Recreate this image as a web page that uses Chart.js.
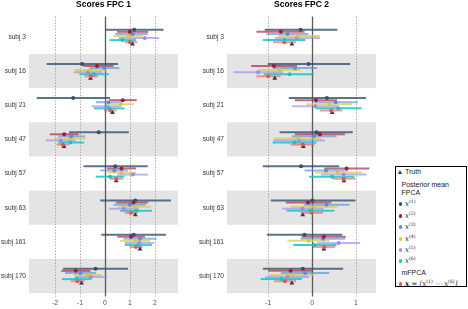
<!DOCTYPE html>
<html><head><meta charset="utf-8">
<script src="https://cdn.jsdelivr.net/npm/chart.js@4"></script>
<style>
html,body{margin:0;padding:0;background:#fff;}
body{width:468px;height:309px;overflow:hidden;position:relative;font-family:"Liberation Sans",Arial,sans-serif;}
#c1{position:absolute;left:0;top:0;}
#c2{position:absolute;left:185px;top:0;}
#legend{position:absolute;left:395px;top:166px;width:72px;height:121px;border:0.8px solid #000;box-sizing:border-box;}
.row{position:absolute;left:0;height:10px;line-height:10px;font-size:7px;color:#1a1a1a;white-space:nowrap;}
.mk{position:absolute;left:2.5px;top:3px;width:3.6px;height:3.6px;border-radius:50%;}
.tri{position:absolute;left:2px;top:2.5px;width:0;height:0;border-left:2.4px solid transparent;border-right:2.4px solid transparent;border-bottom:4.2px solid #2a3a55;}
.txt{position:absolute;left:9px;top:0;}
.hd{position:absolute;left:5.5px;top:0;}
.m{font-family:"DejaVu Serif","Liberation Serif",serif;font-style:italic;font-size:7px;}
.m sup{font-size:4.6px;font-style:normal;vertical-align:3px;line-height:0;}
</style></head><body>
<canvas id="c1" width="185" height="309"></canvas>
<canvas id="c2" width="200" height="309"></canvas>
<div id="legend"></div>
<script>
// ---------------- DATA ----------------
const subjects = ["subj 3","subj 16","subj 21","subj 47","subj 57","subj 63","subj 161","subj 170"];
const seriesLabels = ["x(1)","x(2)","x(3)","x(4)","x(5)","x(6)","mFPCA"];
const xTicks1 = [-2,-1,0,1,2];
const xTicks2 = [-1,0,1];
// FPC 1: [lower, mean, upper] per subject
const fpc1_x1 = [[0.00,1.17,2.34],[-2.33,-0.91,0.52],[-2.73,-1.27,0.20],[-1.44,-0.25,0.95],[-0.86,0.41,1.71],[-0.19,1.21,2.64],[-0.15,1.15,2.44],[-1.68,-0.38,0.92]];
const fpc1_x2 = [[0.48,0.99,1.73],[-0.87,-0.32,0.34],[0.17,0.71,1.27],[-2.21,-1.63,-1.05],[0.08,0.66,1.24],[0.45,1.14,1.73],[0.49,1.04,1.60],[-1.75,-1.17,-0.58]];
const fpc1_x3 = [[0.41,1.10,1.71],[-0.61,-0.02,0.57],[-0.37,0.14,0.66],[-1.87,-1.35,-0.79],[-0.19,0.37,0.91],[0.34,0.99,1.63],[0.74,1.40,2.06],[-1.60,-0.98,-0.36]];
const fpc1_x4 = [[0.34,0.94,1.51],[-1.22,-0.60,0.05],[0.08,0.63,1.16],[-2.04,-1.40,-0.77],[0.10,0.66,1.24],[0.54,1.19,1.85],[0.61,1.20,1.80],[-1.25,-0.69,-0.13]];
const fpc1_x5 = [[0.54,1.59,2.17],[-1.25,-0.67,-0.10],[-0.54,0.04,0.63],[-2.36,-1.77,-1.18],[0.49,1.12,1.73],[0.16,0.74,1.37],[0.79,1.37,1.96],[-1.18,-0.57,0.09]];
const fpc1_x6 = [[0.18,0.70,1.24],[-1.03,-0.45,0.16],[-0.44,0.16,0.78],[-1.88,-1.38,-0.83],[-0.37,0.20,0.78],[0.61,1.24,1.88],[0.79,1.32,1.88],[-1.73,-1.14,-0.54]];
const fpc1_m  = [[0.78,1.00,1.29],[-0.82,-0.57,-0.28],[-0.04,0.22,0.46],[-1.94,-1.69,-1.43],[0.20,0.45,0.73],[0.79,1.04,1.31],[0.98,1.24,1.51],[-1.37,-1.10,-0.82]];
const fpc1_truth = [1.10,-0.58,0.30,-1.64,0.45,1.21,1.40,-0.94];
// FPC 2
const fpc2_x1 = [[-1.08,-0.26,0.58],[-1.01,-0.08,0.87],[-0.53,0.34,1.23],[-0.74,0.10,0.93],[-1.12,-0.25,0.62],[-0.94,0.01,0.99],[-1.03,-0.17,0.69],[-1.12,-0.21,0.71]];
const fpc2_x2 = [[-1.27,-0.71,-0.17],[-1.39,-0.87,-0.34],[-0.39,0.09,0.57],[-0.39,0.18,0.75],[0.28,0.79,1.31],[-0.60,-0.09,0.44],[-0.24,0.27,0.77],[-1.00,-0.49,0.01]];
const fpc2_x3 = [[-1.04,-0.56,-0.08],[-0.89,-0.39,0.12],[0.05,0.54,1.05],[-0.46,0.04,0.56],[-0.17,0.32,0.81],[-0.19,0.33,0.86],[-0.26,0.25,0.76],[-0.71,-0.16,0.39]];
const fpc2_x4 = [[-0.78,-0.31,0.18],[-1.23,-0.75,-0.26],[-0.13,0.39,0.91],[-0.86,-0.33,0.21],[0.06,0.59,1.13],[-0.49,0.05,0.58],[-0.56,-0.08,0.40],[-0.97,-0.46,0.05]];
const fpc2_x5 = [[-0.85,-0.34,0.18],[-1.79,-1.23,-0.66],[-0.46,0.07,0.59],[-0.89,-0.30,0.29],[0.20,0.72,1.24],[-0.68,-0.22,0.27],[0.11,0.61,1.10],[-1.07,-0.56,-0.07]];
const fpc2_x6 = [[-1.12,-0.63,-0.15],[-1.10,-0.51,0.04],[0.08,0.60,1.13],[-0.90,-0.40,0.10],[-0.07,0.46,0.97],[-0.58,-0.04,0.51],[-0.43,0.06,0.56],[-1.17,-0.70,-0.23]];
const fpc2_m  = [[-0.89,-0.63,-0.36],[-1.27,-1.00,-0.72],[0.18,0.44,0.69],[-0.49,-0.21,0.06],[0.47,0.72,0.99],[-0.26,-0.01,0.25],[0.02,0.28,0.53],[-0.87,-0.62,-0.36]];
const fpc2_truth = [-0.46,-0.85,0.46,-0.20,0.73,-0.21,0.27,-0.46];

// ---------------- STYLE ----------------
const pointColors = ["#34506f","#a3193d","#5a8fd8","#d2c93a","#9a8cf2","#16c6c6","#ff4d4d"];
const lineColors  = ["rgba(52,80,111,0.8)","rgba(175,40,70,0.7)","rgba(90,143,216,0.65)","rgba(214,205,70,0.75)","rgba(154,140,242,0.65)","rgba(22,198,198,0.85)","rgba(255,90,90,0.65)"];
const truthColor = "#2a3a55";
const FONT = "'Liberation Sans', Arial, sans-serif";
Chart.defaults.font.family = FONT;
const STEP = 0.0603; // dodge in category units

const bgPlugin = {
  id: 'bg',
  beforeDatasetsDraw(chart) {
    const {ctx, chartArea: a, scales: {x, y}} = chart;
    ctx.save();
    ctx.fillStyle = '#e4e4e4';
    subjects.forEach((s, i) => {
      if (i % 2 === 1) {
        const t = y.getPixelForValue(i - 0.5), b = y.getPixelForValue(i + 0.5);
        ctx.fillRect(a.left, t, a.right - a.left, b - t);
      }
    });
    chart.options.refTicks.forEach(v => {
      const px = Math.round(x.getPixelForValue(v)) + 0.5;
      ctx.beginPath();
      if (v === 0) { ctx.setLineDash([]); ctx.strokeStyle = '#5a5a5a'; ctx.lineWidth = 1.3; }
      else { ctx.setLineDash([1.5, 1.5]); ctx.strokeStyle = '#9a9a9a'; ctx.lineWidth = 0.8; }
      ctx.moveTo(px, a.top); ctx.lineTo(px, a.bottom); ctx.stroke();
    });
    ctx.setLineDash([]);
    chart.data.datasets.forEach(ds => {
      if (!ds.errs) return;
      ctx.strokeStyle = ds.lineColor; ctx.lineWidth = 2; ctx.lineCap = 'butt';
      ds.errs.forEach((e, i) => {
        const py = y.getPixelForValue(ds.data[i].y);
        ctx.beginPath();
        ctx.moveTo(x.getPixelForValue(e[0]), py);
        ctx.lineTo(x.getPixelForValue(e[2]), py);
        ctx.stroke();
      });
    });
    ctx.restore();
  }
};

function build(canvasId, title, series, truth, xmin, xmax, ticks, yWidth, padRight) {
  const datasets = series.map((arr, k) => ({
    label: seriesLabels[k],
    data: arr.map((e, i) => ({x: e[1], y: i + (k - 3.5) * STEP})),
    errs: arr,
    lineColor: lineColors[k],
    backgroundColor: pointColors[k],
    borderWidth: 0,
    pointRadius: 2,
  }));
  datasets.push({
    label: 'Truth',
    data: truth.map((v, i) => ({x: v, y: i + 3.5 * STEP})),
    pointStyle: 'triangle',
    backgroundColor: truthColor,
    borderColor: truthColor,
    borderWidth: 0,
    pointRadius: 2.8,
  });
  return new Chart(document.getElementById(canvasId), {
    type: 'scatter',
    data: {datasets},
    plugins: [bgPlugin],
    options: {
      refTicks: ticks,
      responsive: false, animation: false, devicePixelRatio: 1,
      layout: {padding: {left: 0, right: padRight, top: 0, bottom: 0}},
      plugins: {
        legend: {display: false}, tooltip: {enabled: false},
        title: {display: true, text: title, fullSize: false, color: '#000',
          font: {size: 8.5, weight: 'bold', family: FONT, lineHeight: 1.2},
          padding: {top: 0, bottom: 6.3}}
      },
      scales: {
        x: {type: 'linear', min: xmin, max: xmax,
          afterBuildTicks: s => { s.ticks = ticks.map(v => ({value: v})); },
          afterFit: s => { s.height = 12.5; },
          grid: {display: false, drawTicks: false}, border: {display: false},
          ticks: {font: {size: 6.8, family: FONT}, color: '#4d4d4d', padding: 2.5, callback: v => String(v), maxRotation: 0}},
        y: {type: 'linear', min: -0.6, max: 7.6, reverse: true,
          afterBuildTicks: s => { s.ticks = subjects.map((n, i) => ({value: i})); },
          afterFit: s => { s.width = yWidth; },
          grid: {display: false, drawTicks: false}, border: {display: false},
          ticks: {font: {size: 6.6, family: FONT}, color: '#333', padding: 3, callback: v => subjects[v]}}
      }
    }
  });
}

build('c1', 'Scores FPC 1', [fpc1_x1, fpc1_x2, fpc1_x3, fpc1_x4, fpc1_x5, fpc1_x6, fpc1_m], fpc1_truth, -3.04, 2.92, xTicks1, 29, 7);
build('c2', 'Scores FPC 2', [fpc2_x1, fpc2_x2, fpc2_x3, fpc2_x4, fpc2_x5, fpc2_x6, fpc2_m], fpc2_truth, -1.94, 1.46, xTicks2, 42, 9);

// ---------------- LEGEND ----------------
const lg = document.getElementById('legend');
function row(cy, html) {
  const d = document.createElement('div');
  d.className = 'row';
  d.style.top = (cy - 166 - 5) + 'px';
  d.style.width = '70px';
  d.innerHTML = html;
  lg.appendChild(d);
}
row(171, '<span class="tri"></span><span class="txt">Truth</span>');
row(184, '<span class="hd">Posterior mean</span>');
row(192, '<span class="hd">FPCA</span>');
const dotY = [203, 215, 226, 238, 249, 260];
dotY.forEach((cy, k) => {
  row(cy, '<span class="mk" style="background:' + pointColors[k] + '"></span><span class="txt m">x<sup>(' + (k + 1) + ')</sup></span>');
});
row(272, '<span class="hd">mFPCA</span>');
row(283, '<span class="mk" style="background:' + pointColors[6] + '"></span><span class="txt m"><b>x</b> = [x<sup>(1)</sup> ⋯ x<sup>(6)</sup>]</span>');
</script>
</body></html>
